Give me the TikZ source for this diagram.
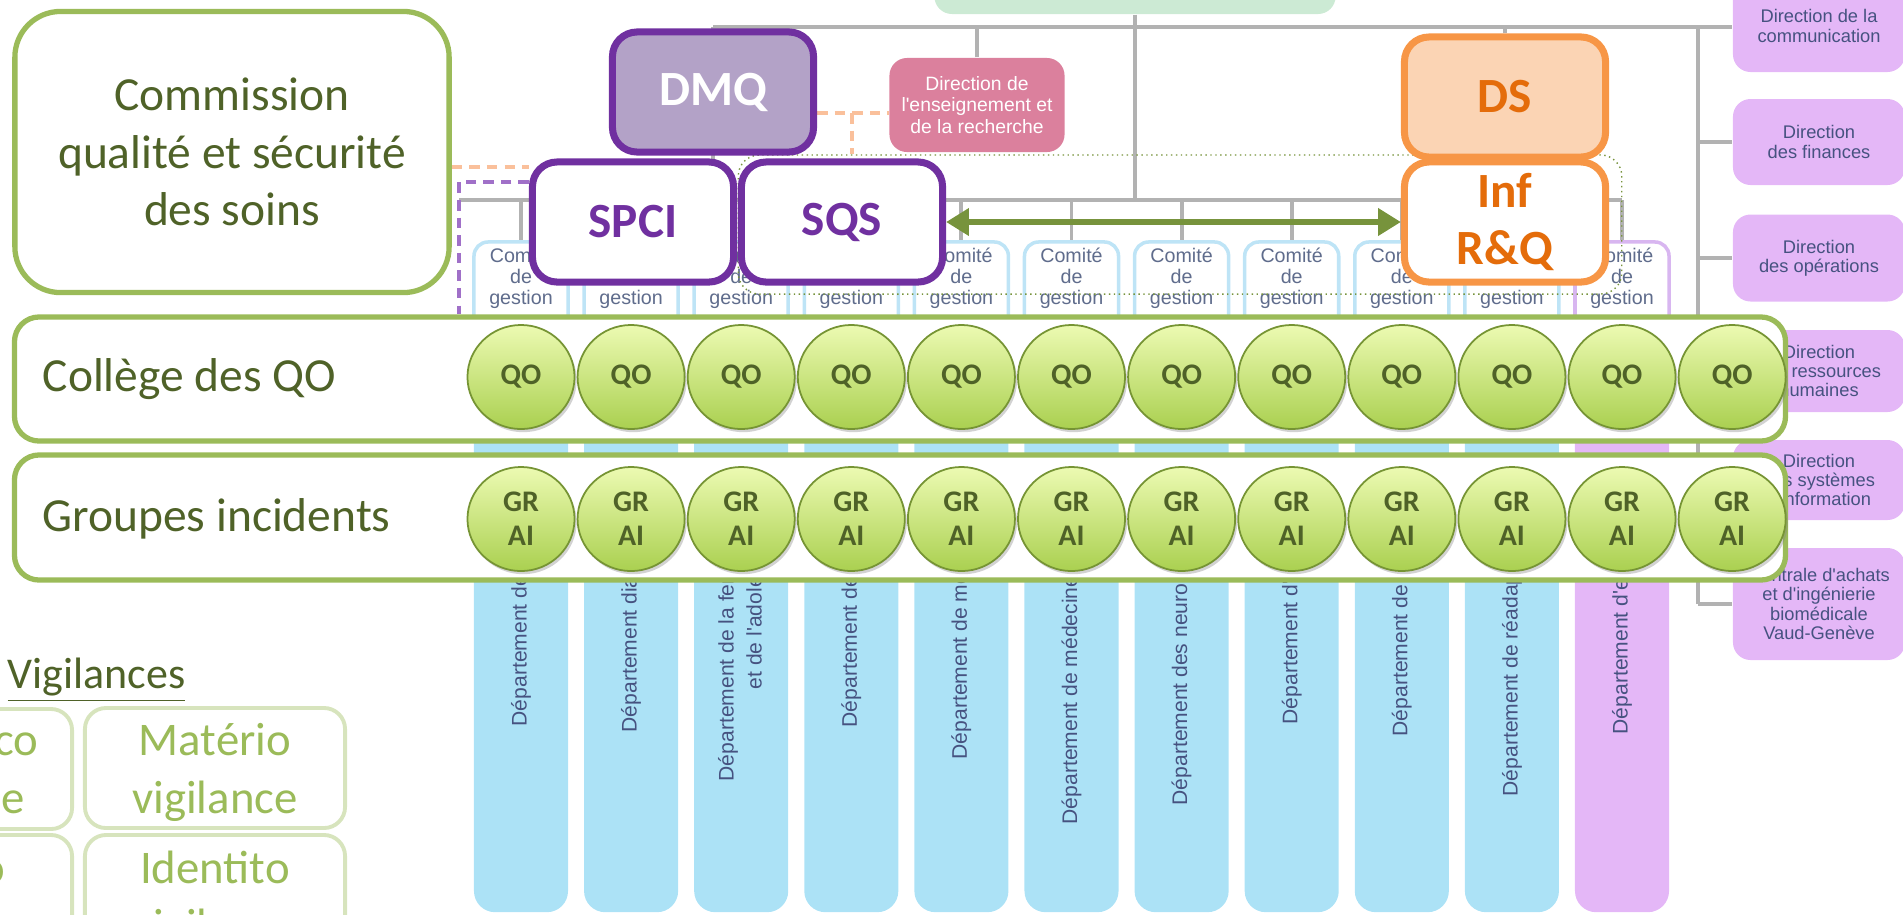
\documentclass[tikz,border=0pt]{standalone}
\usepackage{fontspec}
\setmainfont{Carlito}
\newfontfamily\orgfont{Liberation Sans}
\usetikzlibrary{arrows.meta,shapes.geometric,shadows}

\pgfdeclarelayer{back}
\pgfsetlayers{back,main}

\definecolor{qgreen}{RGB}{155,187,89}
\definecolor{qdark}{RGB}{79,98,40}
\definecolor{qpurple}{RGB}{112,48,160}
\definecolor{qlilac}{RGB}{179,162,199}
\definecolor{qorange}{RGB}{247,150,70}
\definecolor{qpeach}{RGB}{251,212,180}
\definecolor{qorangetext}{RGB}{228,108,10}
\definecolor{qarrow}{RGB}{119,147,60}
\definecolor{qpink}{RGB}{219,128,157}
\definecolor{qmint}{RGB}{204,234,212}
\definecolor{qsky}{RGB}{172,226,246}
\definecolor{qviolet}{RGB}{228,183,247}
\definecolor{qnavy}{RGB}{70,82,128}
\definecolor{qcomite}{RGB}{190,228,246}
\definecolor{qcomviolet}{RGB}{216,182,240}
\definecolor{qgraytext}{RGB}{95,108,140}
\definecolor{qgray}{RGB}{178,178,178}
\definecolor{qorangedash}{RGB}{250,192,155}
\definecolor{qlavender}{RGB}{160,112,200}
\definecolor{qpale}{RGB}{215,228,189}
\definecolor{qballtop}{RGB}{236,250,178}
\definecolor{qballbot}{RGB}{170,208,80}
\definecolor{qballline}{RGB}{118,148,52}

\tikzset{
  orgline/.style={draw=qgray, line width=1.1pt},
  board/.style={fill=qmint, rounded corners=5pt, minimum width=4.01cm, minimum height=0.34cm},
  dirbox/.style={fill=qviolet, rounded corners=5pt, minimum width=1.72cm, inner sep=0pt,
    align=center, text=qnavy, font=\orgfont\fontsize{5.2}{5.5}\selectfont},
  pinkbox/.style={fill=qpink, rounded corners=5pt, minimum width=1.75cm, minimum height=0.94cm,
    inner sep=0pt, align=center, text=white, font=\orgfont\fontsize{5.5}{6.1}\selectfont},
  deptcol/.style={fill=qsky, rounded corners=6pt, minimum width=0.94cm, minimum height=5.94cm, inner sep=0pt},
  depttext/.style={text=qnavy, font=\orgfont\fontsize{6}{7}\selectfont, inner sep=0pt},
  comite/.style={draw=qcomite, fill=white, line width=1pt, rounded corners=4pt,
    minimum width=0.94cm, minimum height=0.88cm, inner sep=0pt},
  comitetext/.style={text=qgraytext, font=\orgfont\fontsize{5.6}{6}\selectfont, align=center, inner sep=0pt},
  orangedash/.style={draw=qorangedash, line width=1pt, dash pattern=on 3pt off 2pt},
  purpledash/.style={draw=qlavender, line width=1pt, dash pattern=on 3pt off 2pt},
  dotgroup/.style={draw=qarrow, densely dotted, line width=0.4pt, rounded corners=6pt,
    minimum width=8.83cm, minimum height=1.39cm, inner sep=0pt},
  headbox/.style={rounded corners=7pt, line width=2pt, minimum width=2.01cm, minimum height=1.2cm,
    inner sep=0pt, align=center, font=\bfseries\fontsize{14}{16.2}\selectfont},
  dmqbox/.style={headbox, draw=qpurple, fill=qlilac, text=white},
  spcibox/.style={headbox, draw=qpurple, fill=white, text=qpurple},
  dsbox/.style={headbox, draw=qorange, fill=qpeach, text=qorangetext},
  infbox/.style={headbox, draw=qorange, fill=white, text=qorangetext},
  biarrow/.style={draw=qarrow, line width=1.8pt,
    {Triangle[length=6.5pt,width=7.5pt]}-{Triangle[length=6.5pt,width=7.5pt]}},
  greenbox/.style={draw=qgreen, fill=white, line width=1.5pt, rounded corners=7pt, inner sep=0pt},
  bigtext/.style={text=qdark, font=\fontsize{13.5}{16.3}\selectfont},
  ball/.style={ellipse, draw=qballline, line width=0.5pt, top color=qballtop, bottom color=qballbot,
    minimum width=1.07cm, minimum height=1.04cm, inner sep=0pt, align=center, text=qdark,
    font=\bfseries\fontsize{8.5}{9.7}\selectfont,
    drop shadow={shadow xshift=0.6pt, shadow yshift=-0.9pt, opacity=0.35}},
  vigbox/.style={draw=qpale, line width=1.1pt, fill=white, rounded corners=6pt,
    minimum width=2.6cm, minimum height=1.2cm, inner sep=0pt},
  vigtext/.style={text=qgreen, font=\fontsize{13.3}{16.5}\selectfont, align=center, inner sep=0pt},
}

\begin{document}
\begin{tikzpicture}[x=0.01cm,y=-0.01cm]
\useasboundingbox (0,0) rectangle (1903,914);

% hospital chart in the background
\node[board] (board) at (1135,-3) {};
\node[pinkbox] (enseign) at (977,105) {Direction de\\l'enseignement et\\de la recherche};
\foreach \n/\dy/\dh/\dtxt in {1/26/92/{Direction de la\\communication},
    2/142/86/{Direction\\des finances},
    3/258/87/{Direction\\des opérations},
    4/371/82/{Direction\\des ressources\\humaines},
    5/480/80/{Direction\\des systèmes\\d'information},
    6/604/112/{Centrale d'achats\\et d'ingénierie\\biomédicale\\Vaud-Genève}}
  \node[dirbox, minimum height=\dh*0.01cm] (dir\n) at (1819,\dy) {\dtxt};

% departments
\foreach \i in {1,...,10}
  \node[deptcol] (col\i) at ({521+110.1*(\i-1)},615) {};
\node[deptcol, fill=qviolet] (col11) at (1622,615) {};

\foreach \i/\yb/\dtxt in {1/727/Département de, 2/733/Département dia, 4/728/Département de,
    5/760/Département de mé, 6/825/Département de médecine, 7/806/Département des neuro,
    8/725/Département d', 9/737/Département de, 10/797/Département de réadap, 11/735/Département d'e}
  \node[depttext, rotate=90, anchor=west] at ({521+110.1*(\i-1)},\yb) {\dtxt};
\node[depttext, rotate=90, anchor=west] at (728,782) {Département de la fer};
\node[depttext, rotate=90, anchor=west] at (754,690) {et de l'adole};

% management committees
\foreach \i in {1,...,10}
  \node[comite] (com\i) at ({521+110.1*(\i-1)},286) {};
\node[comite, draw=qcomviolet] (com11) at (1622,286) {};
\foreach \i in {1,...,11}
  \node[comitetext] at ([yshift=2.3pt]com\i.center) {Comité\\de\\gestion};

% quality units
\node[dotgroup] (sqsgroup) at (1180,224.5) {};
\node[dmqbox] (dmq) at (713,92) {DMQ};
\node[spcibox] (spci) at (633,222) {SPCI};
\node[spcibox] (sqs) at (842,222) {SQS};
\node[dsbox] (ds) at (1505,97) {DS};
\node[infbox] (inf) at (1505,222) {Inf\\R\&Q};
\draw[biarrow] (sqs.east) -- (inf.west);

\node[greenbox, rounded corners=13pt, minimum width=4.34cm, minimum height=2.81cm,
  bigtext, align=center] (commission) at (232,152) {Commission\\qualité et sécurité\\des soins};

% QO and incident groups
\node[greenbox, minimum width=17.7cm, minimum height=1.24cm] (college) at (900,379) {};
\node[bigtext, anchor=west, inner sep=0pt] (collegelbl) at (42,379) {Collège des QO};
\node[greenbox, minimum width=17.7cm, minimum height=1.25cm] (groupes) at (900,517.5) {};
\node[bigtext, anchor=west, inner sep=0pt] (groupeslbl) at (42,519) {Groupes incidents};
\foreach \i in {1,...,12} {
  \node[ball] (qo\i) at ({521+110.1*(\i-1)},377) {QO};
  \node[ball] (gr\i) at ({521+110.1*(\i-1)},519) {GR\\AI};
}

% vigilances
\node[anchor=base west, inner sep=0pt, text=qdark, font=\fontsize{12.5}{15}\selectfont]
  (vigtitle) at (7,688) {\underline{Vigilances}};
\node[vigbox] (vigA) at (-58,769) {};
\node[vigtext, anchor=base east] at (39,755) {co};
\node[vigtext, anchor=base east] at (25,813) {ce};
\node[vigbox] (vigB) at (215,768) {};
\node[vigtext] at (215,772) {Matério\\vigilance};
\node[vigbox] (vigC) at (-58,895) {};
\node[vigtext, anchor=base east] at (6,883) {o};
\node[vigbox] (vigD) at (215,895) {};
\node[vigtext] at (215,900) {Identito\\vigilance};

% links behind the boxes
\coordinate (topL) at (713,27);
\coordinate (lowL) at (459,200);
\coordinate (lowR) at (1622,200);
\coordinate (rtrunk) at (1698,27);
\coordinate (pd) at (459,182);
\coordinate (oj) at (852,113);
\begin{pgfonlayer}{back}
  \draw[orgline] (topL) -- (topL -| dir1.west);
  \draw[orgline] (board.south) -- (board.south |- lowL);
  \draw[orgline] (topL) -- (topL |- lowL);
  \draw[orgline] (enseign.north) -- (enseign.north |- topL);
  \draw[orgline] (ds.north) -- (ds.north |- topL);
  \draw[orgline] (lowL) -- (lowR);
  \foreach \i in {1,...,11}
    \draw[orgline] (com\i.north) -- (com\i.north |- lowL);
  \draw[orgline] (rtrunk) -- (rtrunk |- dir6.west);
  \foreach \i in {2,...,6}
    \draw[orgline] (rtrunk |- dir\i.west) -- (dir\i.west);
  \draw[purpledash] (spci.west |- pd) -- (pd) -- (pd |- college.north);
  \draw[orangedash] (dmq.east |- oj) -- (enseign.west |- oj);
  \draw[orangedash] (oj) -- (oj |- sqsgroup.north);
  \draw[orangedash] ([yshift=-4.3pt]commission.east) -- ([yshift=-4.3pt]commission.east -| spci.west);
\end{pgfonlayer}
\end{tikzpicture}
\end{document}
